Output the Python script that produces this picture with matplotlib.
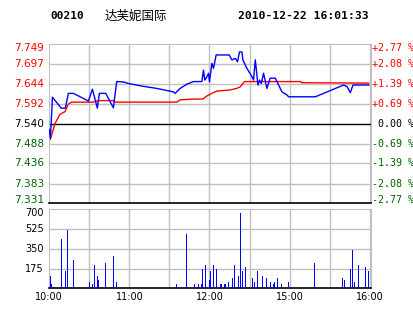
#!/usr/bin/env python3
#
# Intraday chart for 00210 (Daphne International), 2010-12-22.
# Price / average price on top, volume bars below.
#
import matplotlib
matplotlib.use('Agg')
import matplotlib.pyplot as plt
from matplotlib.transforms import ScaledTranslation

PREV_CLOSE = 7.540
GRID = '#c0c0c0'
UP = '#ff0000'
DOWN = '#006400'

# minutes since 10:00 (lunch break removed, 240 minutes total)
price_min = [0, 0.8, 2, 2.3, 9, 12, 14.3, 18, 29.3, 32.3, 36, 37.5, 42.3, 48,
             50.5, 55.5, 59.3, 68, 80.5, 93, 94.3, 98, 103, 108, 114.3, 115.5,
             116.5, 117.5, 119.3, 120, 121.8, 123, 125, 134.8, 136.8, 139.3,
             141, 142.5, 144.3, 145, 148, 151.8, 153, 154.3, 155, 156.3, 157.5,
             158.8, 160.5, 163, 165.5, 169.3, 174.3, 178, 179.3, 199.3, 220.5,
             223, 225.5, 227.5, 239.3]
price = [7.525, 7.502, 7.582, 7.610, 7.581, 7.581, 7.620, 7.620, 7.600, 7.631,
         7.581, 7.620, 7.620, 7.582, 7.651, 7.650, 7.646, 7.640, 7.633, 7.624,
         7.620, 7.633, 7.644, 7.651, 7.651, 7.681, 7.655, 7.660, 7.673, 7.650,
         7.699, 7.686, 7.721, 7.721, 7.708, 7.712, 7.703, 7.729, 7.729, 7.708,
         7.686, 7.664, 7.655, 7.708, 7.686, 7.642, 7.655, 7.646, 7.673, 7.633,
         7.660, 7.660, 7.624, 7.616, 7.611, 7.611, 7.642, 7.638, 7.622, 7.642,
         7.642]

avg_min = [0.8, 4.3, 8, 11.8, 14.3, 16.8, 33, 36.5, 48, 49, 95.5, 98, 108, 115,
           118, 121.8, 125.5, 135.5, 140.5, 143, 146.3, 188.5, 189, 239.3]
avg_price = [7.499, 7.541, 7.565, 7.572, 7.592, 7.597, 7.597, 7.601, 7.601,
             7.597, 7.597, 7.603, 7.605, 7.605, 7.613, 7.620, 7.626, 7.629,
             7.633, 7.637, 7.651, 7.651, 7.648, 7.647]

vol_min = [1, 2, 9, 12, 14, 18, 30, 32, 34, 36, 37, 42, 48, 50, 95, 103, 109,
           112, 114, 115, 117, 120, 121, 123, 125, 128, 129, 131, 132, 134, 137,
           139, 142, 143, 145, 147, 152, 154, 156, 160, 163, 166, 168, 169, 171,
           174, 179, 199, 220, 221, 226, 227, 229, 232, 237, 239]
volume = [109, 38, 437, 153, 517, 251, 56, 38, 206, 109, 74, 224, 286, 56, 38,
          481, 38, 38, 38, 171, 206, 74, 153, 206, 171, 38, 38, 38, 38, 56, 91,
          206, 109, 667, 153, 189, 91, 56, 153, 109, 91, 56, 38, 56, 91, 38, 56,
          224, 91, 74, 171, 339, 56, 206, 189, 153]

price_ticks = [7.749, 7.697, 7.644, 7.592, 7.540, 7.488, 7.436, 7.383, 7.331]
pct_labels = ['+2.77 %', '+2.08 %', '+1.39 %', '+0.69 %', ' 0.00 %',
              '-0.69 %', '-1.39 %', '-2.08 %', '-2.77 %']
vol_ticks = [175, 350, 525, 700]
time_ticks = [0, 60, 120, 180, 240]
time_labels = ['10:00', '11:00', '12:00', '15:00', '16:00']

W, H = 414, 314
fig = plt.figure(figsize=(W / 100, H / 100), dpi=100)
fig.patch.set_facecolor('white')

def box(x0, y0, x1, y1):
    # pixel box (top-left origin) -> figure fraction rect
    return [x0 / W, 1 - y1 / H, (x1 - x0) / W, (y1 - y0) / H]

def shift(ax, dx, dy):
    # offset in pixels on top of the y-axis blended transform
    return ax.get_yaxis_transform() + ScaledTranslation(dx / 100, dy / 100,
                                                        fig.dpi_scale_trans)

def tick_colour(v):
    if abs(v - PREV_CLOSE) < 1e-6:
        return 'black'
    return UP if v > PREV_CLOSE else DOWN

# ---- price panel
ax = fig.add_axes(box(49.3, 44.3, 371, 203.3))
ax.set_xlim(0, 241)
ax.set_ylim(price_ticks[-1], price_ticks[0])
for t in range(30, 241, 30):
    ax.axvline(t, color=GRID, lw=1.0, zorder=0)
for v in price_ticks[1:-1]:
    ax.axhline(v, color='black' if v == PREV_CLOSE else GRID, lw=1.0, zorder=0)
for s in ['top', 'left', 'right']:
    ax.spines[s].set_color(GRID)
ax.spines['bottom'].set_color('black')
ax.spines['bottom'].set_linewidth(1.2)

ax.plot(price_min, price, color='#0000ff', lw=1.0, zorder=3)
ax.plot(avg_min, avg_price, color='#ff0000', lw=1.0, zorder=2)
ax.set_xticks([])
ax.set_yticks([])

n = len(price_ticks)
for i, (v, pct) in enumerate(zip(price_ticks, pct_labels)):
    dy = -3.4 if i == 0 else (3.3 if i == n - 1 else 0)
    c = tick_colour(v)
    ax.text(0, v, '%.3f' % v, transform=shift(ax, -5, dy), ha='right',
            va='center', fontsize=7.6, color=c, family='DejaVu Sans')
    ax.text(1, v, pct, transform=shift(ax, 1, dy), ha='left', va='center',
            fontsize=7.2, color=c, family='DejaVu Sans Mono')

# ---- volume panel
vx = fig.add_axes(box(49.3, 209.3, 371, 288.3))
vx.set_xlim(0, 241)
vx.set_ylim(0, 700)
for t in range(30, 241, 30):
    vx.axvline(t, color=GRID, lw=1.0, zorder=0)
for v in vol_ticks[:-1]:
    vx.axhline(v, color=GRID, lw=1.0, zorder=0)
vx.bar(vol_min, volume, width=0.75, color='#0000ff', linewidth=0,
       antialiased=False, zorder=3)
for s in ['top', 'left', 'right']:
    vx.spines[s].set_color(GRID)
vx.spines['bottom'].set_color('black')
vx.spines['bottom'].set_linewidth(1.2)
vx.set_yticks([])
for v in vol_ticks:
    dy = -4 if v == vol_ticks[-1] else 0
    vx.text(0, v, str(v), transform=shift(vx, -5.5, dy), ha='right',
            va='center', fontsize=7)
vx.set_xticks(time_ticks)
vx.set_xticklabels(time_labels, fontsize=7)
vx.tick_params(length=0)
vx.tick_params(axis='x', pad=3)

# ---- header
fig.text(50 / W, 1 - 16 / H, '00210', fontsize=8, weight='bold',
         family='DejaVu Sans Mono', va='center')
fig.text(105 / W, 1 - 16 / H, '达芙妮国际', fontsize=9,
         family=['Noto Sans CJK SC', 'DejaVu Sans'], va='center')
fig.text(369 / W, 1 - 16 / H, '2010-12-22 16:01:33', fontsize=8.2,
         weight='bold', family='DejaVu Sans Mono', va='center', ha='right')

fig.savefig('out.png', dpi=100)
